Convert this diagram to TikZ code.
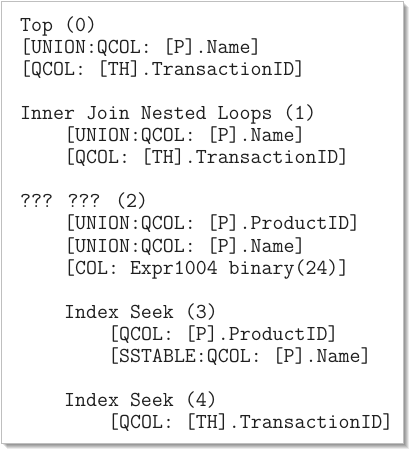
\documentclass[tikz,border=0pt]{standalone}
\usepackage{fontspec}
\begin{document}
\begin{tikzpicture}[x=1pt,y=-1pt,
  codeline/.style={anchor=base west,inner sep=0pt,font=\fontsize{21.3}{22}\ttfamily,text=black!88},
  frame/.style={draw=black!25,line width=0.8pt,fill=white}]
\useasboundingbox (0,0) rectangle (408,449);
% shadow
\foreach \k/\o in {1/0.10,2/0.10,3/0.10,4/0.10,5/0.10,6/0.08}{
  \fill[black,opacity=\o] (1+\k,1+\k) rectangle (403+\k,443+\k);
}
\node[frame,minimum width=402pt,minimum height=442pt,anchor=north west,inner sep=0pt] (box) at (1,1) {};
\def\lh{22.05}
\node[codeline] (l0) at (20,31.5+0*\lh) {Top (0)};
\node[codeline] (l1) at (20,31.5+1*\lh) {[UNION:QCOL: [P].Name]};
\node[codeline] (l2) at (20,31.5+2*\lh) {[QCOL: [TH].TransactionID]};
\node[codeline] (l4) at (20,31.5+4*\lh) {Inner Join Nested Loops (1)};
\node[codeline] (l5) at (64,31.5+5*\lh) {[UNION:QCOL: [P].Name]};
\node[codeline] (l6) at (64,31.5+6*\lh) {[QCOL: [TH].TransactionID]};
\node[codeline] (l8) at (20,31.5+8*\lh) {??? ??? (2)};
\node[codeline] (l9) at (64,31.5+9*\lh) {[UNION:QCOL: [P].ProductID]};
\node[codeline] (l10) at (64,31.5+10*\lh) {[UNION:QCOL: [P].Name]};
\node[codeline] (l11) at (64,31.5+11*\lh) {[COL: Expr1004 binary(24)]};
\node[codeline] (l13) at (64,31.5+13*\lh) {Index Seek (3)};
\node[codeline] (l14) at (108,31.5+14*\lh) {[QCOL: [P].ProductID]};
\node[codeline] (l15) at (108,31.5+15*\lh) {[SSTABLE:QCOL: [P].Name]};
\node[codeline] (l17) at (64,31.5+17*\lh) {Index Seek (4)};
\node[codeline] (l18) at (108,31.5+18*\lh) {[QCOL: [TH].TransactionID]};
\end{tikzpicture}
\end{document}
